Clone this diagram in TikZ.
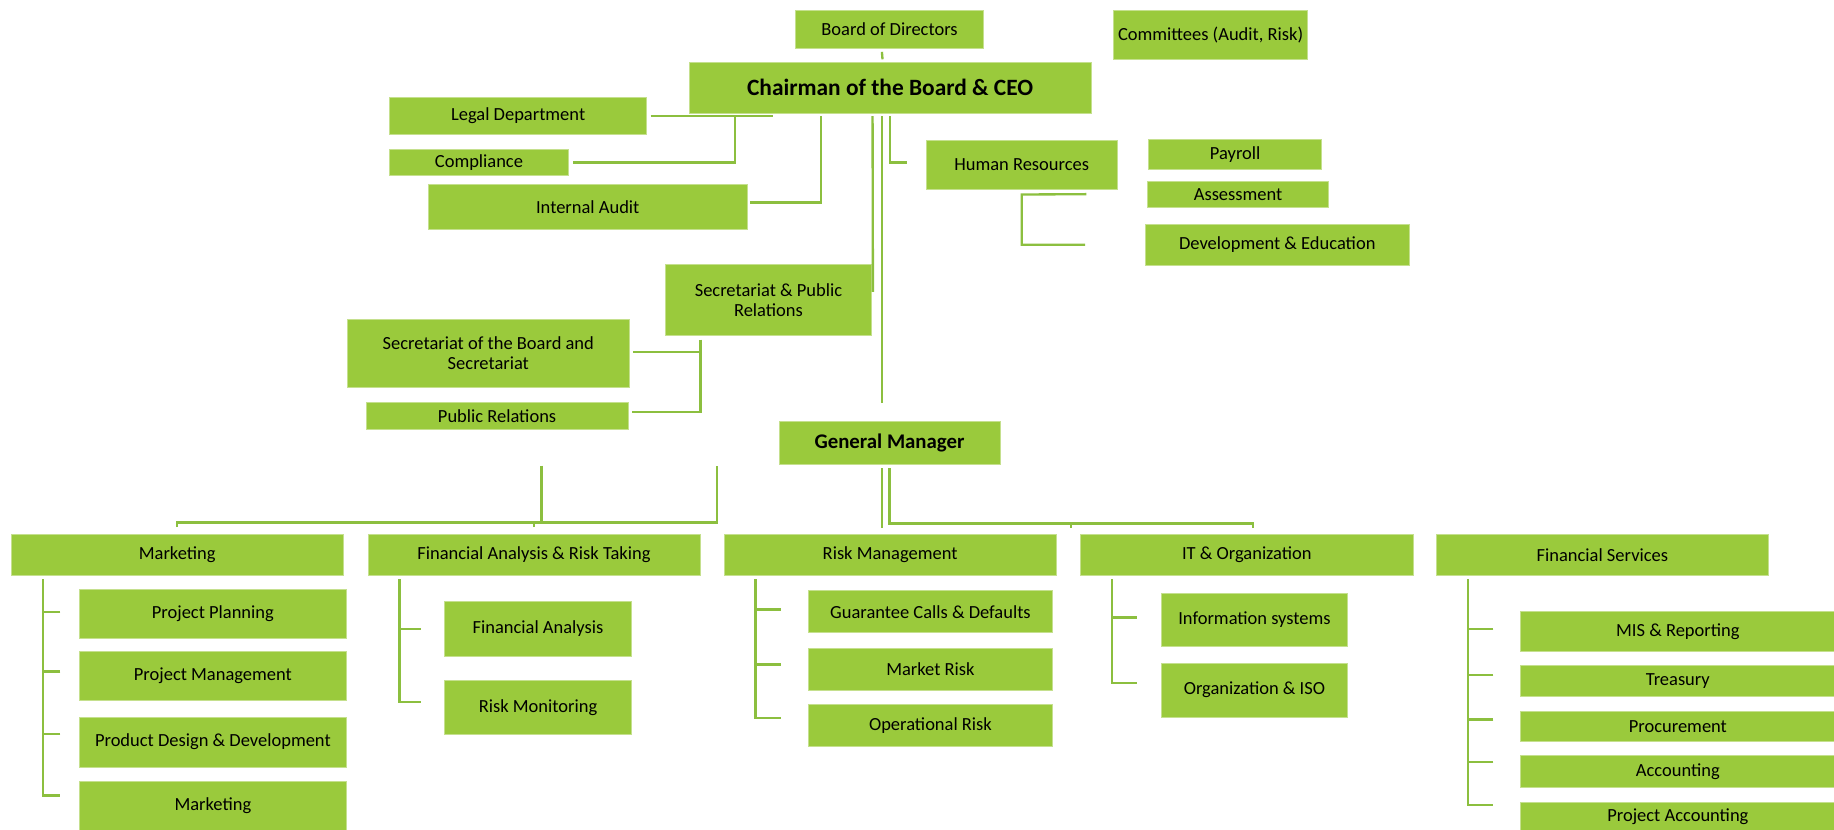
\documentclass[tikz,border=0pt]{standalone}
\usepackage{fontspec}
\setmainfont{Carlito}
\usepackage{tikz}

\definecolor{leaf}{HTML}{9ACA3C}
\definecolor{stem}{HTML}{8CBF3F}
\definecolor{rim}{HTML}{C5E08E}

\begin{document}
\begin{tikzpicture}[x=1pt, y=-1pt,
      box/.style={
        fill=leaf, draw=rim, line width=0.6pt, inner sep=0pt, align=center,
        font=\fontsize{15.8}{17.5}\selectfont
      },
      head/.style={box, minimum width=284pt, minimum height=35pt},
      link/.style={draw=stem, line width=2pt}
    ]
    \clip (0,0) rectangle (1568,709);
    % board and chairman
    \node[box, minimum width=161pt, minimum height=32.5pt] (board) at (760.5,24.75) {Board of Directors};
    \node[box, minimum width=166pt, minimum height=42.5pt] (cmte) at (1035,29.75) {Committees (Audit, Risk)};
    \node[box, minimum width=344pt, minimum height=44pt, font=\fontsize{20}{24}\selectfont\bfseries] (chair) at (761,75) {Chairman of the Board \& CEO};
    \node[box, minimum width=220pt, minimum height=32pt] (legal) at (443,99) {Legal Department};
    \node[box, minimum width=153pt, minimum height=22pt] (compl) at (409.5,139) {Compliance};
    \node[box, minimum width=273pt, minimum height=38pt] (audit) at (502.5,177) {Internal Audit};
    \node[box, minimum width=163pt, minimum height=42pt] (hr) at (873.5,141) {Human Resources};
    \node[box, minimum width=148pt, minimum height=26pt] (payroll) at (1056,132) {Payroll};
    \node[box, minimum width=155pt, minimum height=22pt] (assess) at (1058.5,166) {Assessment};
    \node[box, minimum width=226pt, minimum height=35.5pt] (deved) at (1092,209.25) {Development \& Education};
    \node[box, minimum width=176pt, minimum height=61pt] (secpr) at (657,256.5) {Secretariat \& Public\\Relations};
    \node[box, minimum width=241pt, minimum height=58pt] (secboard) at (417.5,302) {Secretariat of the Board and\\Secretariat};
    \node[box, minimum width=224pt, minimum height=23pt] (pubrel) at (425,355.5) {Public Relations};
    \node[box, minimum width=189pt, minimum height=37pt, font=\fontsize{17.8}{21}\selectfont\bfseries] (gm) at (760.5,378.5) {General Manager};

    % divisions
    \node[head] (mkt) at (151.5,474.5) {Marketing};
    \node[head] (fart) at (456.5,474.5) {Financial Analysis \& Risk Taking};
    \node[head] (rm) at (761,474.5) {Risk Management};
    \node[head] (ito) at (1066,474.5) {IT \& Organization};
    \node[head] (fs) at (1370,474.5) {Financial Services};

    \node[box, minimum width=228pt, minimum height=42pt] (plan) at (182,525) {Project Planning};
    \node[box, minimum width=228pt, minimum height=42pt] (pmgmt) at (182,578) {Project Management};
    \node[box, minimum width=228pt, minimum height=43pt] (pdd) at (182,634.5) {Product Design \& Development};
    \node[box, minimum width=228pt, minimum height=42pt] (mktg) at (182,689) {Marketing};

    \node[box, minimum width=160pt, minimum height=47pt] (fa) at (460,537.5) {Financial Analysis};
    \node[box, minimum width=160pt, minimum height=46pt] (rmon) at (460,605) {Risk Monitoring};

    \node[box, minimum width=209pt, minimum height=36pt] (gcd) at (795.5,523) {Guarantee Calls \& Defaults};
    \node[box, minimum width=209pt, minimum height=36pt] (mrisk) at (795.5,572) {Market Risk};
    \node[box, minimum width=209pt, minimum height=36pt] (oprisk) at (795.5,620) {Operational Risk};

    \node[box, minimum width=159pt, minimum height=46pt] (infosys) at (1072.5,530) {Information systems};
    \node[box, minimum width=159pt, minimum height=46pt] (orgiso) at (1072.5,590) {Organization \& ISO};

    \node[box, minimum width=269pt, minimum height=34pt] (mis) at (1434.5,540) {MIS \& Reporting};
    \node[box, minimum width=269pt, minimum height=26pt] (treas) at (1434.5,582) {Treasury};
    \node[box, minimum width=269pt, minimum height=26pt] (proc) at (1434.5,621) {Procurement};
    \node[box, minimum width=269pt, minimum height=27pt] (acct) at (1434.5,659.5) {Accounting};
    \node[box, minimum width=269pt, minimum height=25pt] (pacct) at (1434.5,698.5) {Project Accounting};

    % upper links
    \draw[link] ([xshift=-6.5pt,yshift=-3pt]board.south) -- ([xshift=-6.5pt,yshift=2pt]chair.north);
    \draw[link] ([xshift=3pt]legal.east) -- +(105,0);
    \draw[link] ([xshift=4pt]compl.east) -| ([xshift=75pt]legal.east);
    \draw[link] ([xshift=2pt,yshift=4pt]audit.east) -| ([xshift=-59pt,yshift=-2pt]chair.south);
    \draw[link] ([xshift=-15pt,yshift=-2pt]chair.south) -- ([xshift=1pt,yshift=7pt]secpr.east);
    \draw[link] ([xshift=-7pt,yshift=-2pt]chair.south) -- ([xshift=-6.5pt,yshift=15pt]gm.north);
    \draw[link] ([yshift=-2pt]chair.south) |- ([xshift=-16pt,yshift=2pt]hr.west);
    \draw[link] ([xshift=-52pt]assess.west) -- ([yshift=-4pt]hr.south) |- ([xshift=-51pt]deved.west);
    \draw[link] ([xshift=-58pt,yshift=-3pt]secpr.south) |- ([xshift=3pt,yshift=3pt]pubrel.east);
    \draw[link] ([xshift=3pt,yshift=1pt]secboard.east) -- +(58,0);

    % general manager links
    \coordinate (gmL1) at (463,398);
    \coordinate (gmL2) at (613,398);
    \coordinate (busL) at ([yshift=10pt]fart.north);
    \draw[link] ([yshift=6pt]mkt.north) -- ([yshift=10pt]mkt.north) -| (gmL2);
    \draw[link] (gmL1) -- (gmL1 |- busL);
    \draw[link] ([yshift=6pt]fart.north) -- (busL);
    \draw[link] ([xshift=-6.5pt,yshift=-3pt]gm.south) -- ([xshift=-7pt,yshift=5pt]rm.north);
    \draw[link] ([yshift=-3pt]gm.south) |- ([xshift=5pt,yshift=9pt]ito.north) -- ([xshift=5pt,yshift=5pt]ito.north);
    \draw[link] ([xshift=-8pt,yshift=9pt]ito.north west) -- ([xshift=-8pt,yshift=5pt]ito.north west);

    % division brackets
    \draw[link] ([xshift=-115pt,yshift=-3pt]mkt.south) |- ([xshift=-16pt,yshift=9pt]mktg.west);
    \draw[link] ([xshift=-16pt,yshift=2pt]plan.west) -- +(-15.5,0);
    \draw[link] ([xshift=-16pt,yshift=4pt]pmgmt.west) -- +(-15.5,0);
    \draw[link] ([xshift=-16pt,yshift=7pt]pdd.west) -- +(-15.5,0);

    \draw[link] ([xshift=-115pt,yshift=-3pt]fart.south) |- ([xshift=-20pt,yshift=5pt]rmon.west);
    \draw[link] ([xshift=-20pt]fa.west) -- +(-18.5,0);

    \draw[link] ([xshift=-115pt,yshift=-3pt]rm.south) |- ([xshift=-23pt,yshift=6pt]oprisk.west);
    \draw[link] ([xshift=-23pt,yshift=2pt]gcd.west) -- +(-22,0);
    \draw[link] ([xshift=-23pt,yshift=4pt]mrisk.west) -- +(-22,0);

    \draw[link] ([xshift=-115.5pt,yshift=-3pt]ito.south) |- ([xshift=-21pt,yshift=6pt]orgiso.west);
    \draw[link] ([xshift=-21pt,yshift=2pt]infosys.west) -- +(-21.5,0);

    \draw[link] ([xshift=-115pt,yshift=-3pt]fs.south) |- ([xshift=-23pt,yshift=10.5pt]pacct.west);
    \draw[link] ([xshift=-23pt,yshift=2pt]mis.west) -- +(-22,0);
    \draw[link] ([xshift=-23pt,yshift=5pt]treas.west) -- +(-22,0);
    \draw[link] ([xshift=-23pt,yshift=6pt]proc.west) -- +(-22,0);
    \draw[link] ([xshift=-23pt,yshift=8pt]acct.west) -- +(-22,0);
  \end{tikzpicture}
\end{document}
